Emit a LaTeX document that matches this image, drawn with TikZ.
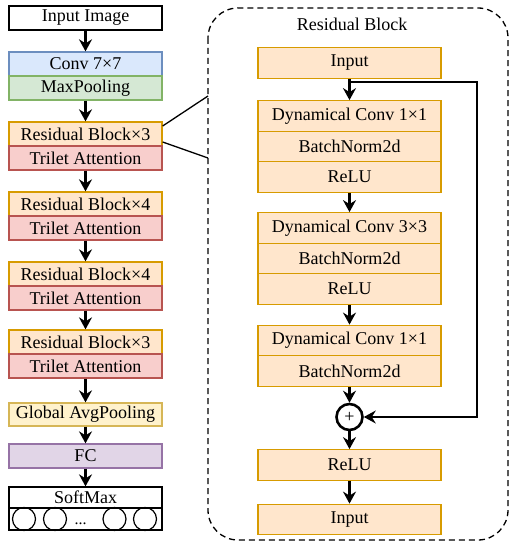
\documentclass[tikz,border=0pt]{standalone}
\usepackage{fontspec}
\setmainfont{Liberation Serif}
\usetikzlibrary{arrows.meta}
\definecolor{bluef}{HTML}{DAE8FC}\definecolor{blued}{HTML}{6C8EBF}
\definecolor{greenf}{HTML}{D5E8D4}\definecolor{greend}{HTML}{82B366}
\definecolor{orangef}{HTML}{FFE6CC}\definecolor{oranged}{HTML}{D79B00}
\definecolor{redf}{HTML}{F8CECC}\definecolor{redd}{HTML}{B85450}
\definecolor{yellowf}{HTML}{FFF2CC}\definecolor{yellowd}{HTML}{D6B656}
\definecolor{purplef}{HTML}{E1D5E7}\definecolor{purpled}{HTML}{9673A6}
\tikzset{
  base/.style={rectangle, inner sep=0pt, line width=1.3pt, font=\fontsize{18}{20}\selectfont},
  lbox/.style={base, minimum width=153pt, minimum height=24pt},
  rbox/.style={base, draw=oranged, fill=orangef, minimum width=183pt, minimum height=30.5pt},
  cblue/.style={draw=blued, fill=bluef},
  cgreen/.style={draw=greend, fill=greenf},
  corange/.style={draw=oranged, fill=orangef},
  cred/.style={draw=redd, fill=redf},
  cyellow/.style={draw=yellowd, fill=yellowf},
  cpurple/.style={draw=purpled, fill=purplef},
  cwhite/.style={draw=black, fill=white},
  flow/.style={line width=2.4pt, -{Stealth[length=12pt,width=13pt,inset=4pt]}},
  thin/.style={line width=1.3pt},
  ball/.style={circle, draw=black, line width=1.2pt, minimum size=23pt, inner sep=0pt},
}
\begin{document}
\begin{tikzpicture}[x=1pt,y=-1pt]
\useasboundingbox (0,0) rectangle (511,543);
% left column
\node[lbox,cwhite] (img) at (85.5,18) {Input Image};
\node[lbox,cblue] (conv) at (85.5,64) {Conv 7×7};
\node[lbox,cgreen] (maxp) at (85.5,88) {MaxPooling};
\node[lbox,corange] (rb1) at (85.5,134) {Residual Block×3};
\node[lbox,cred] (ta1) at (85.5,158) {Trilet Attention};
\node[lbox,corange] (rb2) at (85.5,204) {Residual Block×4};
\node[lbox,cred] (ta2) at (85.5,228) {Trilet Attention};
\node[lbox,corange] (rb3) at (85.5,274) {Residual Block×4};
\node[lbox,cred] (ta3) at (85.5,298) {Trilet Attention};
\node[lbox,corange] (rb4) at (85.5,342) {Residual Block×3};
\node[lbox,cred] (ta4) at (85.5,366) {Trilet Attention};
\node[lbox,cyellow,minimum height=23pt] (gap) at (85.5,414.5) {Global AvgPooling};
\node[lbox,cpurple] (fc) at (85.5,456) {FC};
\node[lbox,cwhite,minimum height=21pt] (sm) at (85.5,497.5) {SoftMax};
\node[lbox,cwhite,minimum height=22pt] (row) at (85.5,519) {};
\node[ball] (o1) at (24,519) {};
\node[ball] (o2) at (55,519) {};
\node[inner sep=0pt, font=\fontsize{16}{16}\selectfont, anchor=base] (dots) at (80.5,524) {...};
\node[ball] (o3) at (114.5,519) {};
\node[ball] (o4) at (145,519) {};
\draw[flow] (img) -- (conv);
\draw[flow] (maxp) -- (rb1);
\draw[flow] (ta1) -- (rb2);
\draw[flow] (ta2) -- (rb3);
\draw[flow] (ta3) -- (rb4);
\draw[flow] (ta4) -- (gap);
\draw[flow] (gap) -- (fc);
\draw[flow] (fc) -- (sm);
% residual block detail
\draw[thin, dash pattern=on 6pt off 4pt, rounded corners=30pt] (208,8) rectangle (508,540);
\node[base] (title) at (352,24) {Residual Block};
\coordinate (c1) at (208,96);
\coordinate (c2) at (208,158);
\draw[thin] ([yshift=8pt]rb1.east) -- (c1);
\draw[thin] ([yshift=-8pt]rb1.east) -- (c2);
\node[rbox] (in1) at (349.5,63) {Input};
\node[rbox] (d1) at (349.5,116) {Dynamical Conv 1×1};
\node[rbox] (b1) at (349.5,146.5) {BatchNorm2d};
\node[rbox] (r1) at (349.5,177) {ReLU};
\node[rbox] (d2) at (349.5,228) {Dynamical Conv 3×3};
\node[rbox] (b2) at (349.5,258.5) {BatchNorm2d};
\node[rbox] (r2) at (349.5,289) {ReLU};
\node[rbox] (d3) at (349.5,340.5) {Dynamical Conv 1×1};
\node[rbox] (b3) at (349.5,371) {BatchNorm2d};
\node[circle, draw=black, line width=2.6pt, minimum size=26pt, inner sep=0pt, font=\fontsize{18}{18}\selectfont] (plus) at (349.5,417) {+};
\node[rbox] (r3) at (349.5,465) {ReLU};
\node[rbox] (out) at (349.5,519.5) {Input};
\draw[flow] (in1) -- (d1);
\draw[flow] (r1) -- (d2);
\draw[flow] (r2) -- (d3);
\draw[flow] (b3) -- (plus);
\draw[flow] (plus) -- (r3);
\draw[flow] (r3) -- (out);
\coordinate (s0) at (349.5,82);
\coordinate (s1) at (477,82);
\coordinate (s2) at (477,417);
\draw[line width=1.5pt, -{Stealth[length=12pt,width=13pt,inset=4pt]}] (s0) -- (s1) -- (s2) -- (plus);
\end{tikzpicture}
\end{document}
